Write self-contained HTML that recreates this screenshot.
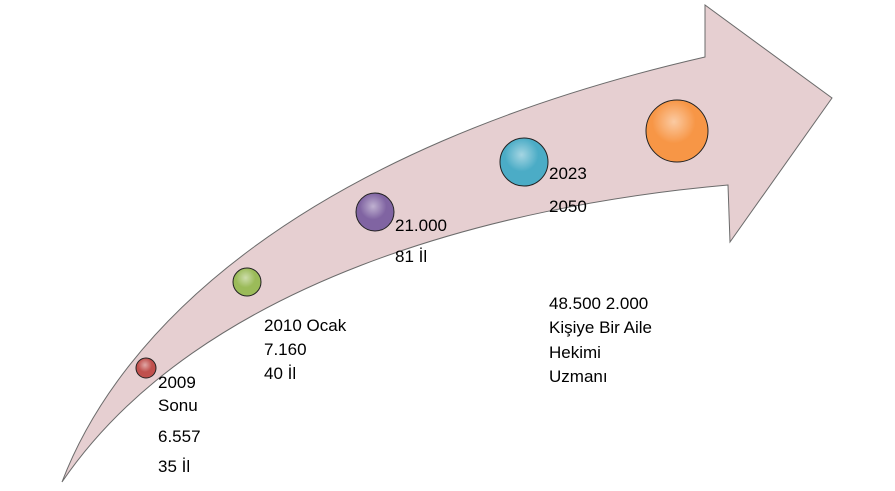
<!DOCTYPE html>
<html><head><meta charset="utf-8"><style>
body{margin:0;background:#fff;width:895px;height:486px;overflow:hidden}
svg text{font-family:"Liberation Sans Narrow","Liberation Sans",sans-serif;font-size:17px;fill:#000}
</style></head><body>
<svg width="895" height="486" viewBox="0 0 895 486">
<defs>
<radialGradient id="g" cx="0.45" cy="0.35" r="0.7"><stop offset="0" stop-color="#fff" stop-opacity="0.5"/><stop offset="0.5" stop-color="#fff" stop-opacity="0"/></radialGradient>
</defs>
<path d="M62,482 C120,330 300,150 705,57 L705,5 L832,98 L730,242 L728,185 C500,205 200,280 62,482 Z" fill="#e6cfd1" stroke="#6b6b6b" stroke-width="1"/>
<g><circle cx="146" cy="368" r="10" fill="#c0504d" stroke="#222"/><circle cx="146" cy="368" r="10" fill="url(#g)"/></g>
<g><circle cx="247" cy="282" r="14" fill="#9bbb59" stroke="#222"/><circle cx="247" cy="282" r="14" fill="url(#g)"/></g>
<g><circle cx="375" cy="212" r="19" fill="#8064a2" stroke="#222"/><circle cx="375" cy="212" r="19" fill="url(#g)"/></g>
<g><circle cx="524" cy="162" r="24" fill="#4bacc6" stroke="#222"/><circle cx="524" cy="162" r="24" fill="url(#g)"/></g>
<g><circle cx="677" cy="131" r="31" fill="#f79646" stroke="#222"/><circle cx="677" cy="131" r="31" fill="url(#g)"/></g>
<g>
<text x="158" y="388">2009</text><text x="158" y="411">Sonu</text><text x="158" y="442">6.557</text><text x="158" y="472">35 İl</text></g>
<g>
<text x="264" y="331">2010 Ocak</text><text x="264" y="355">7.160</text><text x="264" y="379">40 İl</text></g>
<g>
<text x="395" y="231">21.000</text><text x="395" y="262">81 İl</text></g>
<g>
<text x="549" y="179">2023</text><text x="549" y="212">2050</text></g>
<g>
<text x="549" y="309">48.500  2.000</text><text x="549" y="333">Kişiye Bir Aile</text><text x="549" y="358">Hekimi</text><text x="549" y="382">Uzmanı</text></g>
</svg>
</body></html>
